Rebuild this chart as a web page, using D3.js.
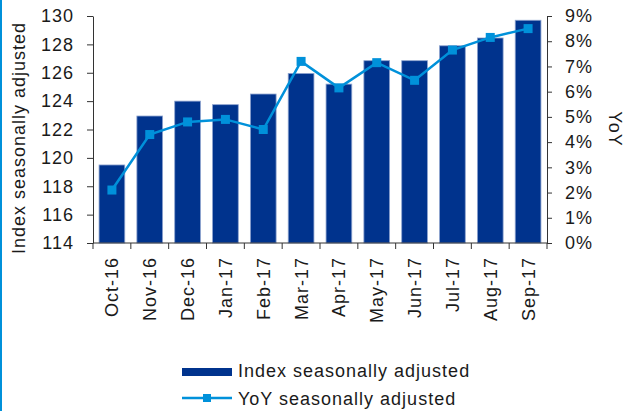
<!DOCTYPE html>
<html lang="en">
<head>
    <meta charset="UTF-8">
    <script src="https://d3js.org/d3.v7.min.js"></script>
    <style>
        body {
            margin: 0;
            background: #fff;
            font-family: "Liberation Sans", Arial, sans-serif;
        }
        text {
            font-size: 18px;
            letter-spacing: 1px;
            fill: #1a1a1a;
        }
    </style>
</head>
<body>
<div id="chart"></div>

<script>
// Chart data
var months = ["Oct-16", "Nov-16", "Dec-16", "Jan-17", "Feb-17", "Mar-17",
              "Apr-17", "May-17", "Jun-17", "Jul-17", "Aug-17", "Sep-17"];
var indexValues = [119.5, 122.95, 124.0, 123.75, 124.5, 125.95,
                   125.2, 126.85, 126.85, 127.9, 128.45, 129.7];
var yoyValues = [2.1, 4.3, 4.8, 4.9, 4.5, 7.2,
                 6.15, 7.15, 6.45, 7.65, 8.15, 8.5];
var leftTicks = [114, 116, 118, 120, 122, 124, 126, 128, 130];
var rightTicks = [0, 1, 2, 3, 4, 5, 6, 7, 8, 9];

var width = 624, height = 411;
var plot = { left: 93, right: 547, top: 16, bottom: 243 };
var barColor = "#00338D", lineColor = "#0091DA";

var svg = d3.select("#chart")
    .append("svg")
        .attr("width", width)
        .attr("height", height);

// Blue frame line on the left edge
svg.append("rect")
    .attr("x", 0).attr("y", 0)
    .attr("width", 2).attr("height", height)
    .attr("fill", lineColor);

// Scales
var x = d3.scaleBand()
    .domain(months)
    .range([plot.left, plot.right])
    .paddingInner(0.32)
    .paddingOuter(0.16);

var xTicks = d3.scaleBand()
    .domain(months)
    .range([plot.left, plot.right]);

var yLeft = d3.scaleLinear()
    .domain([114, 130])
    .range([plot.bottom, plot.top]);

var yRight = d3.scaleLinear()
    .domain([0, 9])
    .range([plot.bottom, plot.top]);

// Bars
svg.selectAll(".bar")
    .data(indexValues)
    .enter()
    .append("rect")
        .attr("class", "bar")
        .attr("x", function(d, i) { return x(months[i]); })
        .attr("width", x.bandwidth())
        .attr("y", function(d) { return yLeft(d); })
        .attr("height", function(d) { return plot.bottom - yLeft(d); })
        .attr("fill", barColor)
        .attr("stroke", "#8da3cf")
        .attr("stroke-width", 0.8);

// Left axis
var leftAxis = svg.append("g")
    .attr("transform", "translate(" + plot.left + ",0)")
    .call(d3.axisLeft(yLeft).tickValues(leftTicks).tickSize(6).tickPadding(13).tickSizeOuter(0));

// Right axis
var rightAxis = svg.append("g")
    .attr("transform", "translate(" + plot.right + ",0)")
    .call(d3.axisRight(yRight).tickValues(rightTicks).tickSize(5).tickPadding(13).tickSizeOuter(0)
        .tickFormat(function(d) { return d + "%"; }));

// Bottom axis: ticks at band boundaries
var bottomAxis = svg.append("g")
    .attr("transform", "translate(0," + plot.bottom + ")");

bottomAxis.append("line")
    .attr("x1", plot.left).attr("x2", plot.right)
    .attr("stroke", "#333");

bottomAxis.selectAll(".tick-mark")
    .data(months.concat(["end"]))
    .enter()
    .append("line")
        .attr("x1", function(d, i) { return i < months.length ? xTicks(d) : plot.right; })
        .attr("x2", function(d, i) { return i < months.length ? xTicks(d) : plot.right; })
        .attr("y1", 0).attr("y2", 6)
        .attr("stroke", "#333");

bottomAxis.selectAll(".xlabel")
    .data(months)
    .enter()
    .append("text")
        .attr("transform", function(d) {
            return "translate(" + (x(d) + x.bandwidth() / 2) + ",14)rotate(-90)";
        })
        .attr("dy", "0.36em")
        .attr("text-anchor", "end")
        .text(function(d) { return d; });

[leftAxis, rightAxis].forEach(function(a) {
    a.select(".domain").attr("stroke", "#333");
    a.selectAll(".tick line").attr("stroke", "#333");
    a.selectAll(".tick text")
        .attr("fill", "#1a1a1a")
        .style("font-size", "18px")
        .style("font-family", "'Liberation Sans', Arial, sans-serif");
});

// YoY line with square markers
var line = d3.line()
    .x(function(d, i) { return x(months[i]) + x.bandwidth() / 2; })
    .y(function(d) { return yRight(d); });

svg.append("path")
    .datum(yoyValues)
    .attr("fill", "none")
    .attr("stroke", lineColor)
    .attr("stroke-width", 2.5)
    .attr("d", line);

svg.selectAll(".marker")
    .data(yoyValues)
    .enter()
    .append("rect")
        .attr("x", function(d, i) { return x(months[i]) + x.bandwidth() / 2 - 4.5; })
        .attr("y", function(d) { return yRight(d) - 4.5; })
        .attr("width", 9)
        .attr("height", 9)
        .attr("fill", lineColor);

// Axis titles
svg.append("text")
    .attr("transform", "translate(25,138)rotate(-90)")
    .attr("text-anchor", "middle")
    .text("Index seasonally adjusted");

svg.append("text")
    .attr("transform", "translate(609,129)rotate(90)")
    .attr("text-anchor", "middle")
    .text("YoY");

// Legend
var legend = svg.append("g");

legend.append("rect")
    .attr("x", 182).attr("y", 368)
    .attr("width", 50).attr("height", 8)
    .attr("fill", barColor);

legend.append("text")
    .attr("x", 238).attr("y", 377)
    .text("Index seasonally adjusted");

legend.append("line")
    .attr("x1", 182).attr("x2", 232)
    .attr("y1", 398).attr("y2", 398)
    .attr("stroke", lineColor)
    .attr("stroke-width", 2.5);

legend.append("rect")
    .attr("x", 203).attr("y", 394)
    .attr("width", 8).attr("height", 8)
    .attr("fill", lineColor);

legend.append("text")
    .attr("x", 238).attr("y", 405)
    .text("YoY seasonally adjusted");
</script>
</body>
</html>
